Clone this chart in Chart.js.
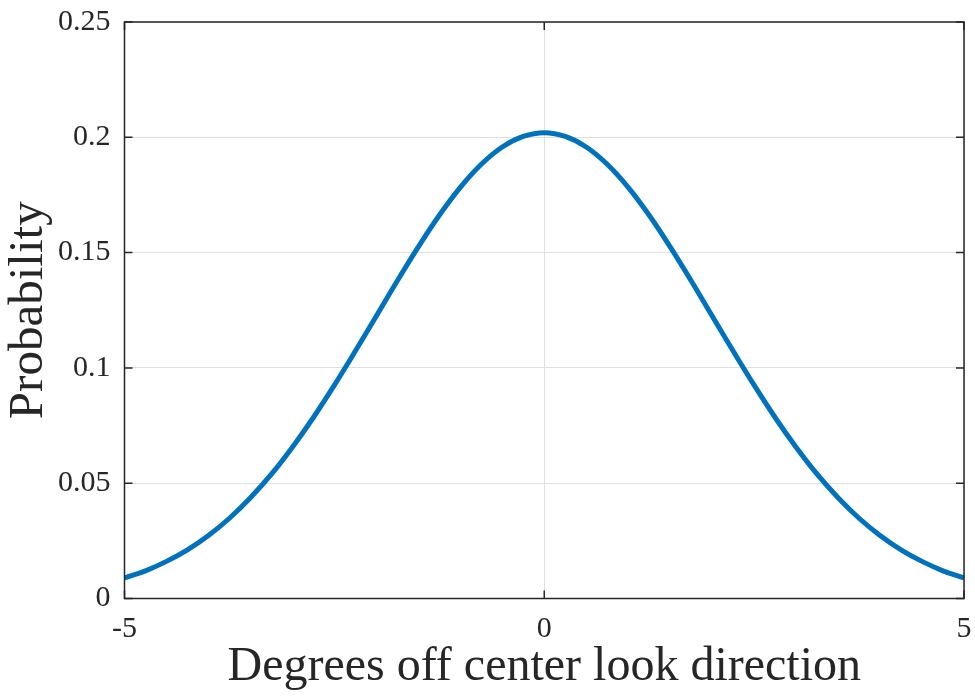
<!DOCTYPE html>
<html>
<head>
<meta charset="utf-8">
<script src="https://cdn.jsdelivr.net/npm/chart.js@4/dist/chart.umd.min.js"></script>
<style>
  html, body { margin: 0; padding: 0; background: #fff; }
  #wrap { width: 975px; height: 696px; }
</style>
</head>
<body>
<div id="wrap"><canvas id="probChart" width="975" height="696"></canvas></div>
<script>
// values
const degrees = [
  -5, -4.75, -4.5, -4.25, -4, -3.75, -3.5, -3.25, -3, -2.75, -2.5, -2.25, -2, -1.75, -1.5, -1.25, -1, -0.75, -0.5, -0.25,
  0,
  0.25, 0.5, 0.75, 1, 1.25, 1.5, 1.75, 2, 2.25, 2.5, 2.75, 3, 3.25, 3.5, 3.75, 4, 4.25, 4.5, 4.75, 5
];
const probability = [
  0.0089, 0.0120, 0.0161, 0.0211, 0.0273, 0.0348, 0.0437, 0.0539, 0.0656, 0.0785, 0.0925, 0.1073, 0.1225, 0.1378, 0.1525, 0.1662, 0.1783, 0.1883, 0.1958, 0.2004,
  0.2020,
  0.2004, 0.1958, 0.1883, 0.1783, 0.1662, 0.1525, 0.1378, 0.1225, 0.1073, 0.0925, 0.0785, 0.0656, 0.0539, 0.0437, 0.0348, 0.0273, 0.0211, 0.0161, 0.0120, 0.0089
];
const xTicks = [-5, 0, 5];
const yTicks = [0, 0.05, 0.1, 0.15, 0.2, 0.25];

const axisColor = "#262626";
const gridColor = "#dfdfdf";
const serif = "'Liberation Serif', 'Times New Roman', serif";

// box around the axes plus inward tick marks (MATLAB style)
const boxPlugin = {
  id: "boxAndTicks",
  afterDraw(chart) {
    const { ctx, chartArea: a, scales } = chart;
    const len = 8;
    ctx.save();
    ctx.strokeStyle = axisColor;
    ctx.lineWidth = 1.5;
    ctx.strokeRect(a.left, a.top, a.right - a.left, a.bottom - a.top);
    ctx.beginPath();
    xTicks.forEach(v => {
      const px = scales.x.getPixelForValue(v);
      ctx.moveTo(px, a.bottom); ctx.lineTo(px, a.bottom - len);
      ctx.moveTo(px, a.top); ctx.lineTo(px, a.top + len);
    });
    yTicks.forEach(v => {
      const py = scales.y.getPixelForValue(v);
      ctx.moveTo(a.left, py); ctx.lineTo(a.left + len, py);
      ctx.moveTo(a.right, py); ctx.lineTo(a.right - len, py);
    });
    ctx.stroke();
    ctx.restore();
  }
};

function drawChart() {
  const points = degrees.map((d, i) => ({ x: d, y: probability[i] }));
  const ctx = document.getElementById("probChart").getContext("2d");

  new Chart(ctx, {
    type: "line",
    data: {
      datasets: [{
        data: points,
        borderColor: "#0072BD",
        borderWidth: 5,
        pointRadius: 0,
        tension: 0.4,
        fill: false
      }]
    },
    options: {
      responsive: false,
      animation: false,
      layout: { padding: { left: 0, right: 11, top: 22, bottom: 0 } },
      plugins: { legend: { display: false }, tooltip: { enabled: false } },
      scales: {
        x: {
          type: "linear",
          min: -5,
          max: 5,
          afterBuildTicks: s => { s.ticks = xTicks.map(v => ({ value: v })); },
          afterFit: s => {
            s.height = 97.5;
            s.paddingLeft = 0;
            s.paddingRight = 0;
          },
          grid: { color: gridColor, lineWidth: 1, drawTicks: false },
          border: { display: false },
          ticks: {
            padding: 13,
            color: axisColor,
            font: { family: serif, size: 30 },
            callback: v => String(v)
          },
          title: {
            display: true,
            text: "Degrees off center look direction",
            color: axisColor,
            font: { family: serif, size: 48 },
            padding: { top: 0, bottom: 0 }
          }
        },
        y: {
          min: 0,
          max: 0.25,
          afterBuildTicks: s => { s.ticks = yTicks.map(v => ({ value: v })); },
          afterFit: s => {
            s.width = 124.5;
            s.paddingTop = 0;
            s.paddingBottom = 0;
          },
          grid: { color: gridColor, lineWidth: 1, drawTicks: false },
          border: { display: false },
          ticks: {
            padding: 14,
            color: axisColor,
            font: { family: serif, size: 30 },
            callback: v => String(Math.round(v * 100) / 100)
          },
          title: {
            display: true,
            text: "Probability",
            color: axisColor,
            font: { family: serif, size: 49 },
            padding: { top: 0, bottom: 0 }
          }
        }
      }
    },
    plugins: [boxPlugin]
  });
}

document.addEventListener("DOMContentLoaded", drawChart);
</script>
</body>
</html>
